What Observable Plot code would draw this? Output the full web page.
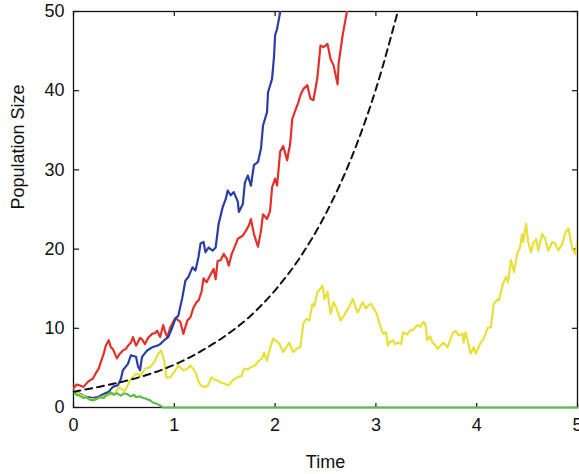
<!DOCTYPE html>
<html>
<head>
<meta charset="utf-8">
<script src="https://cdn.jsdelivr.net/npm/d3@7"></script>
<script src="https://cdn.jsdelivr.net/npm/@observablehq/plot@0.6"></script>
<style>
  html, body { margin: 0; padding: 0; background: #fff; }
  #chart svg { display: block; }
</style>
</head>
<body>
<div id="chart"></div>
<script>
// Axis ticks
const timeTicks = [0, 1, 2, 3, 4, 5];
const sizeTicks = [0, 10, 20, 30, 40, 50];

// Deterministic mean population
const meanTime = [0, 0.25, 0.5, 0.75, 1, 1.25, 1.5, 1.75, 2, 2.25, 2.5, 2.75, 3, 3.25];
const meanSize = [2.0, 2.6, 3.3, 4.2, 5.4, 7.0, 9.0, 11.5, 14.8, 19.0, 24.4, 31.3, 40.2, 51.6];

// Sample path 1 (blue)
const blueTime = [0,0.04,0.07,0.11,0.14,0.19,0.24,0.30,0.35,0.39,0.44,0.47,0.49,0.54,0.57,0.62,0.64,0.66,0.68,0.73,0.78,0.83,0.86,0.90,0.94,0.98,1.01,1.04,1.08,1.11,1.14,1.18,1.21,1.24,1.26,1.29,1.31,1.34,1.38,1.41,1.44,1.48,1.51,1.53,1.56,1.59,1.63,1.64,1.68,1.70,1.73,1.76,1.79,1.83,1.86,1.88,1.92,1.93,1.97,1.99,2.00,2.02,2.05,2.06];
const blueSize = [2.0,1.8,1.7,1.4,1.3,1.2,1.3,1.7,2.0,2.6,2.8,3.6,4.7,5.5,6.6,6.4,5.2,4.7,6.4,7.2,7.6,7.8,8.0,8.5,8.9,10.1,11.2,11.6,13.9,16.0,16.5,17.7,17.3,19.0,20.7,20.9,19.6,20.2,19.8,20.2,23.2,25.3,26.3,27.4,26.8,27.2,26.0,24.7,25.7,28.4,29.3,28.0,30.6,31.0,32.7,35.6,37.3,39.8,41.5,44.4,47.0,47.8,49.9,50.5];

// Sample path 2 (red)
const redTime = [0,0.03,0.06,0.10,0.14,0.17,0.19,0.22,0.25,0.27,0.30,0.32,0.35,0.37,0.39,0.43,0.46,0.49,0.52,0.54,0.57,0.59,0.62,0.63,0.66,0.68,0.71,0.74,0.78,0.81,0.83,0.86,0.89,0.91,0.93,0.96,1.01,1.04,1.06,1.09,1.13,1.16,1.19,1.22,1.24,1.27,1.29,1.32,1.36,1.39,1.41,1.43,1.46,1.49,1.52,1.54,1.57,1.59,1.63,1.68,1.71,1.74,1.76,1.79,1.83,1.86,1.88,1.92,1.95,1.97,2.00,2.02,2.05,2.08,2.12,2.13,2.15,2.17,2.20,2.23,2.25,2.28,2.32,2.35,2.38,2.42,2.45,2.48,2.52,2.55,2.58,2.62,2.63,2.67,2.70,2.72];
const redSize = [2.4,2.9,2.8,2.6,3.2,3.5,3.6,4.3,4.9,5.7,6.8,7.8,8.5,7.6,7.4,6.2,6.8,7.2,7.4,7.8,8.2,8.9,7.8,8.0,8.8,8.6,8.0,8.8,9.3,9.4,9.7,8.9,10.4,9.5,8.9,10.1,11.3,11.0,10.8,9.3,11.0,11.4,12.6,13.3,13.5,14.6,16.3,15.8,16.8,17.5,16.2,18.5,18.6,19.4,18.8,17.9,19.4,20.0,21.3,21.7,22.3,23.0,23.8,21.9,20.3,22.3,24.4,23.8,24.8,27.8,28.9,28.0,32.3,33.0,31.2,32.0,33.3,36.4,37.5,38.5,39.4,40.2,40.7,39.0,38.8,41.7,45.7,45.5,45.9,44.0,43.2,40.8,43.4,47.0,49.1,50.5];

// Sample path 3 (yellow)
const yellowTime = [0,0.07,0.15,0.22,0.27,0.32,0.37,0.42,0.45,0.49,0.51,0.57,0.62,0.66,0.71,0.76,0.81,0.84,0.87,0.90,0.92,0.96,1.01,1.04,1.09,1.13,1.16,1.21,1.24,1.26,1.30,1.33,1.37,1.40,1.43,1.47,1.50,1.54,1.57,1.60,1.64,1.67,1.69,1.73,1.76,1.80,1.83,1.87,1.89,1.92,1.95,1.98,2.01,2.04,2.08,2.11,2.14,2.18,2.21,2.25,2.28,2.31,2.34,2.37,2.39,2.42,2.45,2.47,2.49,2.52,2.55,2.58,2.61,2.65,2.68,2.70,2.74,2.77,2.80,2.82,2.85,2.87,2.90,2.93,2.95,2.98,3.01,3.03,3.07,3.10,3.12,3.14,3.17,3.19,3.22,3.25,3.27,3.31,3.34,3.37,3.41,3.44,3.47,3.49,3.51,3.54,3.56,3.58,3.61,3.64,3.67,3.71,3.76,3.79,3.82,3.86,3.87,3.89,3.94,3.97,3.99,4.04,4.07,4.11,4.14,4.17,4.21,4.22,4.26,4.29,4.31,4.34,4.37,4.40,4.43,4.45,4.46,4.49,4.51,4.54,4.56,4.59,4.61,4.65,4.68,4.71,4.75,4.78,4.81,4.85,4.88,4.91,4.95,4.98,5.00];
const yellowSize = [2.0,1.6,1.1,1.0,1.3,1.5,1.6,1.9,2.6,2.2,2.1,3.6,4.3,4.0,4.9,5.1,5.9,6.8,7.2,5.9,3.8,3.8,4.7,5.3,4.7,4.9,5.3,4.5,3.3,2.8,2.6,2.7,3.8,3.5,3.4,3.1,3.0,2.8,3.3,3.6,3.9,4.0,4.9,4.8,5.1,5.3,5.8,6.2,6.9,5.9,7.5,8.7,8.4,8.1,7.0,7.6,8.2,7.0,7.4,7.6,10.6,11.2,11.0,13.1,12.8,14.6,15.0,15.4,13.7,14.6,11.8,13.3,12.5,11.0,11.5,12.0,12.8,13.7,12.6,12.0,12.8,13.3,12.5,12.9,13.1,12.5,11.8,10.8,9.3,9.5,7.8,8.3,8.5,8.0,8.2,8.0,9.5,9.2,9.7,9.8,10.4,10.2,10.8,10.6,8.5,9.0,8.2,8.0,7.4,7.8,8.2,7.6,9.3,9.7,9.1,9.3,8.2,9.5,6.8,7.6,6.8,8.2,8.7,10.1,10.1,13.1,13.7,13.5,15.6,16.5,15.8,18.6,17.1,19.4,20.2,21.9,20.9,23.2,20.9,19.6,20.7,21.3,19.8,21.9,21.3,19.8,20.9,20.7,19.8,20.7,22.1,22.6,20.0,19.4,21.1];

// Sample path 4 (green), goes extinct
const greenTime = [0,0.03,0.06,0.10,0.13,0.16,0.20,0.23,0.26,0.30,0.33,0.37,0.40,0.43,0.47,0.50,0.53,0.57,0.60,0.62,0.66,0.69,0.72,0.76,0.79,0.82,0.86,0.89,5];
const greenSize = [2.0,1.6,1.5,1.2,1.3,1.0,0.9,1.1,1.3,1.2,1.6,1.9,1.6,1.8,1.5,1.8,1.7,1.4,1.6,1.3,1.4,1.2,1.1,0.9,0.6,0.5,0.25,0,0];

const pathStyle = {strokeWidth: 2.2, strokeLinejoin: "round"};
const tickStyle = {tickSize: 5, text: null, label: null, stroke: "#111", strokeWidth: 1.2};

const chart = Plot.plot({
  width: 579,
  height: 474,
  marginLeft: 73,
  marginRight: 2,
  marginTop: 11,
  marginBottom: 67,
  style: {fontFamily: "'Liberation Sans', Arial, Helvetica, sans-serif", fontSize: "18px", color: "#111", background: "#fff"},
  x: {domain: [0, 5], label: null},
  y: {domain: [0, 50], label: null},
  marks: [
    Plot.frame({stroke: "#111", strokeWidth: 1.3}),
    // tick labels
    Plot.axisX(timeTicks, {anchor: "bottom", tickSize: 0, tickPadding: 11, label: null}),
    Plot.axisY(sizeTicks, {anchor: "left", tickSize: 0, tickPadding: 9, label: null}),
    // inward ticks on all four sides: each tick set is drawn on the opposite frame edge
    Plot.axisX(timeTicks, {anchor: "top", frameAnchor: "bottom", ...tickStyle}),
    Plot.axisX(timeTicks, {anchor: "bottom", frameAnchor: "top", ...tickStyle}),
    Plot.axisY(sizeTicks, {anchor: "right", frameAnchor: "left", ...tickStyle}),
    Plot.axisY(sizeTicks, {anchor: "left", frameAnchor: "right", ...tickStyle}),
    // axis titles
    Plot.text(["Time"], {frameAnchor: "bottom", dy: 60, fontSize: 18}),
    Plot.text(["Population Size"], {frameAnchor: "left", dx: -55, rotate: -90, fontSize: 18}),
    // sample paths
    Plot.line(redSize, {x: redTime, y: redSize, stroke: "#e2302a", clip: true, ...pathStyle}),
    Plot.line(blueSize, {x: blueTime, y: blueSize, stroke: "#2a3ea6", clip: true, ...pathStyle}),
    Plot.line(yellowSize, {x: yellowTime, y: yellowSize, stroke: "#e8e03a", clip: true, ...pathStyle}),
    Plot.line(greenSize, {x: greenTime, y: greenSize, stroke: "#5dbd4b", ...pathStyle}),
    // mean
    Plot.line(meanSize, {x: meanTime, y: meanSize, stroke: "#111", strokeWidth: 2, strokeDasharray: "7,5", curve: "monotone-x", clip: true})
  ]
});

document.getElementById("chart").appendChild(chart);
</script>
</body>
</html>
